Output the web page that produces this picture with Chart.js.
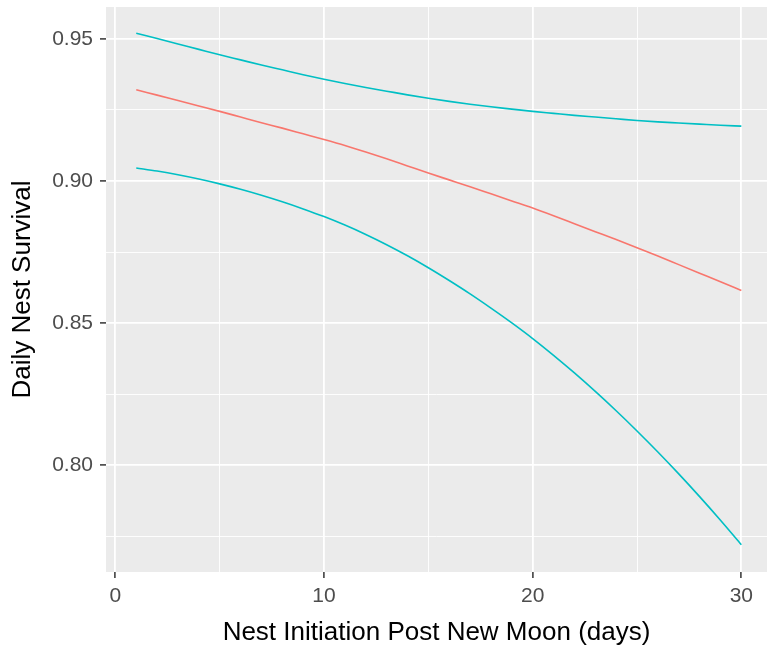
<!DOCTYPE html>
<html>
<head>
<meta charset="utf-8">
<script src="https://cdn.jsdelivr.net/npm/chart.js@4.4.1/dist/chart.umd.min.js"></script>
<style>
html,body{margin:0;padding:0;background:#fff;}
#wrap{width:767px;height:649px;position:relative;}
</style>
</head>
<body>
<div id="wrap"><canvas id="c" width="767" height="649"></canvas></div>
<script>
const days = [1,2,3,4,5,6,7,8,9,10,11,12,13,14,15,16,17,18,19,20,21,22,23,24,25,26,27,28,29,30];
const upperCI = [0.9520,0.9501,0.9482,0.9463,0.9444,0.9426,0.9408,0.9391,0.9374,0.9358,0.9343,0.9329,0.9316,0.9303,0.9291,0.9280,0.9270,0.9261,0.9253,0.9245,0.9238,0.9231,0.9225,0.9219,0.9213,0.9208,0.9204,0.9200,0.9196,0.9193];
const estimate = [0.9321,0.9302,0.9283,0.9264,0.9245,0.9225,0.9205,0.9186,0.9166,0.9146,0.9125,0.9102,0.9078,0.9053,0.9028,0.9004,0.8980,0.8955,0.8930,0.8905,0.8878,0.8850,0.8822,0.8794,0.8765,0.8736,0.8706,0.8676,0.8646,0.8615];
const lowerCI = [0.9046,0.9035,0.9022,0.9007,0.8990,0.8971,0.8950,0.8927,0.8902,0.8875,0.8845,0.8812,0.8776,0.8737,0.8695,0.8650,0.8603,0.8553,0.8501,0.8446,0.8387,0.8325,0.8260,0.8192,0.8121,0.8047,0.7970,0.7890,0.7807,0.7721];
const xTickValues = [0,5,10,15,20,25,30];
const xTickLabels = ['0','','10','','20','','30'];
const yTickValues = [0.775,0.80,0.825,0.85,0.875,0.90,0.925,0.95];
const yTickLabels = ['','0.80','','0.85','','0.90','','0.95'];
const xTitle = 'Nest Initiation Post New Moon (days)';
const yTitle = 'Daily Nest Survival';

const TEAL = '#00BFC4', RED = '#F8766D';
const FONT = "'Liberation Sans', Arial, sans-serif";
const toPts = arr => days.map((d,i)=>({x:d,y:arr[i]}));

const panelBg = {
  id:'panelBg',
  beforeDraw(chart){
    const {ctx, chartArea:a} = chart;
    ctx.save();
    ctx.fillStyle = '#EBEBEB';
    ctx.fillRect(a.left, a.top, a.right-a.left, a.bottom-a.top);
    ctx.restore();
  }
};

const isMajor = (labels, i) => labels[i] !== '';

new Chart(document.getElementById('c'), {
  type:'line',
  data:{
    datasets:[
      {data:toPts(upperCI), borderColor:TEAL},
      {data:toPts(estimate), borderColor:RED},
      {data:toPts(lowerCI), borderColor:TEAL}
    ].map(d=>Object.assign(d,{borderWidth:1.6, pointRadius:0, fill:false, cubicInterpolationMode:'monotone'}))
  },
  options:{
    responsive:false,
    animation:false,
    layout:{padding:{top:7,right:0,left:0,bottom:0}},
    plugins:{legend:{display:false}, tooltip:{enabled:false}},
    scales:{
      x:{
        type:'linear',
        min:-0.45, max:31.23,
        afterBuildTicks(s){ s.ticks = xTickValues.map(v=>({value:v})); },
        afterFit(s){ s.height = 77; s.paddingLeft = 0; s.paddingRight = 0; },
        border:{display:false},
        grid:{
          color:'#FFFFFF',
          lineWidth:(c)=> isMajor(xTickLabels, c.index) ? 1.8 : 0.9,
          tickColor:(c)=> isMajor(xTickLabels, c.index) ? '#333333' : 'rgba(0,0,0,0)',
          tickLength:6,
          tickWidth:1.5,
          drawTicks:true
        },
        ticks:{
          autoSkip:false, maxRotation:0,
          padding:6,
          color:'#4D4D4D',
          font:{family:FONT, size:21},
          callback:(v,i)=>xTickLabels[i]
        },
        title:{display:true, text:xTitle, color:'#000', font:{family:FONT, size:26, lineHeight:1}, padding:{top:0,bottom:3}}
      },
      y:{
        type:'linear',
        min:0.7625, max:0.9612,
        afterBuildTicks(s){ s.ticks = yTickValues.map(v=>({value:v})); },
        afterFit(s){ s.width = 106; s.paddingTop = 0; s.paddingBottom = 0; },
        border:{display:false},
        grid:{
          color:'#FFFFFF',
          lineWidth:(c)=> isMajor(yTickLabels, c.index) ? 1.8 : 0.9,
          tickColor:(c)=> isMajor(yTickLabels, c.index) ? '#333333' : 'rgba(0,0,0,0)',
          tickLength:6,
          tickWidth:1.5,
          drawTicks:true
        },
        ticks:{
          autoSkip:false,
          padding:7,
          color:'#4D4D4D',
          font:{family:FONT, size:21},
          callback:(v,i)=>yTickLabels[i]
        },
        title:{display:true, text:yTitle, color:'#000', font:{family:FONT, size:26, lineHeight:1}, padding:{top:10,bottom:0}}
      }
    }
  },
  plugins:[panelBg]
});
</script>
</body>
</html>
